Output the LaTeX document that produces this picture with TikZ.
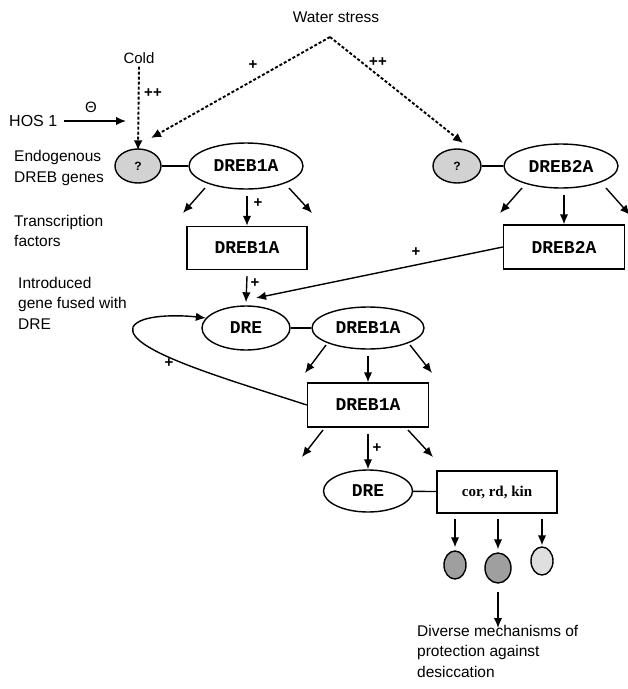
\documentclass[tikz,border=0pt]{standalone}
\usepackage{fontspec}
\setmainfont{Liberation Sans}
\newfontfamily\monof{Liberation Mono}
\newfontfamily\seriff{Liberation Serif}
\usetikzlibrary{arrows.meta,shapes.geometric}
\begin{document}
\begin{tikzpicture}[x=1pt,y=-1pt,
  lw/.style={line width=1.4pt},
  arr/.style={lw,-{Latex[length=10pt,width=8.5pt]}},
  darr/.style={line width=1.9pt,dash pattern=on 3pt off 2pt,-{Latex[length=10pt,width=9pt]}},
  ell/.style={ellipse,draw,lw,inner sep=0pt,font=\monof\bfseries\fontsize{18}{20}\selectfont},
  box/.style={rectangle,draw,lw,inner sep=0pt,font=\monof\bfseries\fontsize{18}{20}\selectfont},
  gq/.style={ellipse,draw,lw,fill=gray!35,inner sep=0pt,minimum width=46pt,minimum height=34pt,font=\fontsize{12}{14}\selectfont\bfseries},
  lab/.style={anchor=west,align=left,inner sep=0pt,font=\fontsize{15.5}{20.5}\selectfont},
  sign/.style={inner sep=0pt,font=\fontsize{15}{16}\selectfont\bfseries}]
\useasboundingbox (0,0) rectangle (628,689);

% top labels
\node[inner sep=0pt,font=\fontsize{15.5}{18}\selectfont] (ws) at (336,17) {Water stress};
\coordinate (apex) at (330,37);
\node[inner sep=0pt,font=\fontsize{15}{16}\selectfont] (cold) at (139,58) {Cold};
\node[lab,font=\fontsize{16}{18}\selectfont] (hos) at (9,121) {HOS 1};
\coordinate (hosend) at (126,121);
\node[inner sep=0pt,font=\fontsize{15}{16}\selectfont] (theta) at (91,107) {Θ};

% left labels
\node[lab] (endo) at (14,168) {Endogenous\\DREB genes};
\node[lab] (tf) at (14,231) {Transcription\\factors};
\node[lab] (intro) at (18,303) {Introduced\\gene fused with\\DRE};

% row 1
\node[gq] (g1) at (138,166) {?};
\node[ell,minimum width=114pt,minimum height=46pt] (d1a) at (246,166) {DREB1A};
\node[gq,minimum width=48pt] (g2) at (457,166) {?};
\node[ell,minimum width=114pt,minimum height=44pt] (d2a) at (561,166) {DREB2A};
\draw[lw] (g1) -- (d1a);
\draw[lw] (g2) -- (d2a);

% stress arrows
\draw[darr] ([yshift=-3pt]cold.south) -- ([yshift=-2pt]g1.north);
\draw[darr] (apex) -- (151,138);
\draw[darr] (apex) -- (463,143);
\draw[arr] (hos.east) ++(7,0) -- (hosend);
\node[sign] (p1) at (253,65) {+};
\node[sign] (p2) at (378,62) {++};
\node[sign] (p3) at (153,93) {++};

% row 2
\node[box,minimum width=120pt,minimum height=43pt] (r1) at (247,248) {DREB1A};
\node[box,minimum width=121pt,minimum height=44pt] (r2a) at (564,247) {DREB2A};
\coordinate (a1l) at (183,213);
\coordinate (a1r) at (312,213);
\coordinate (a2l) at (500,213);
\coordinate (a2r) at (630,215);
\draw[arr] (205,188) -- (a1l);
\draw[arr] (289,188) -- (a1r);
\draw[arr] ([yshift=-6pt]r1.north |- d1a.south) -- (r1.north);
\node[sign] (p4) at (258,203) {+};
\draw[arr] (522,188) -- (a2l);
\draw[arr] (606,188) -- (a2r);
\draw[arr] ([yshift=-6pt]r2a.north |- d2a.south) -- (r2a.north);

% row 3
\node[ell,minimum width=88pt,minimum height=44pt] (dre1) at (246,328) {DRE};
\node[ell,minimum width=112pt,minimum height=42pt] (d1b) at (368,328) {DREB1A};
\draw[lw] (dre1) -- (d1b);
\coordinate (tip2a) at (256,298);
\draw[arr] (r2a.west) -- (tip2a);
\node[sign] (p5) at (416,252) {+};
\draw[arr] ([yshift=-6pt]r1.south) -- ([yshift=3pt]dre1.north);
\node[sign] (p6) at (255,283) {+};

% row 4
\node[box,minimum width=121pt,minimum height=44pt] (r2) at (368,405) {DREB1A};
\coordinate (a3l) at (305,373);
\coordinate (a3r) at (432,373);
\draw[arr] (326,345) -- (a3l);
\draw[arr] (410,345) -- (a3r);
\draw[arr] ([yshift=-6pt]d1b.south) -- (r2.north);
\draw[arr] (r2.west) .. controls (230,380) and (125,350) .. (133,327)
  .. controls (140,314) and (180,315) .. (dre1.166);
\node[sign] (p7) at (169,363) {+};

% row 5
\node[ell,minimum width=89pt,minimum height=42pt] (dre2) at (368,491) {DRE};
\node[box,minimum width=120pt,minimum height=42pt,font=\seriff\bfseries\fontsize{15}{17}\selectfont] (cor) at (497,492) {cor, rd, kin};
\draw[lw] (dre2) -- (cor);
\coordinate (a4l) at (302,457);
\coordinate (a4r) at (433,457);
\draw[arr] (323,430) -- (a4l);
\draw[arr] (408,430) -- (a4r);
\draw[arr] ([yshift=-6pt]r2.south -| dre2.north) -- (dre2.north);
\node[sign] (p8) at (377,448) {+};

% products
\node[ellipse,draw,lw,fill=gray!75,minimum width=22pt,minimum height=28pt,inner sep=0pt] (c1) at (455,565) {};
\node[ellipse,draw,lw,fill=gray!75,minimum width=26pt,minimum height=30pt,inner sep=0pt] (c2) at (498,568) {};
\node[ellipse,draw,lw,fill=gray!25,minimum width=22pt,minimum height=28pt,inner sep=0pt] (c3) at (542,561) {};
\draw[arr] ([yshift=-5pt]c1.north |- cor.south) -- ([yshift=3pt]c1.north);
\draw[arr] ([yshift=-5pt]c2.north |- cor.south) -- ([yshift=3pt]c2.north);
\draw[arr] ([yshift=-5pt]c3.north |- cor.south) -- ([yshift=1pt]c3.north);
\node[lab,anchor=north west] (div) at (417,625) {Diverse mechanisms of\\protection against\\desiccation};
\draw[arr] ([yshift=-8pt]c2.south) -- ([yshift=-3pt]div.north west -| c2.south);
\end{tikzpicture}
\end{document}
